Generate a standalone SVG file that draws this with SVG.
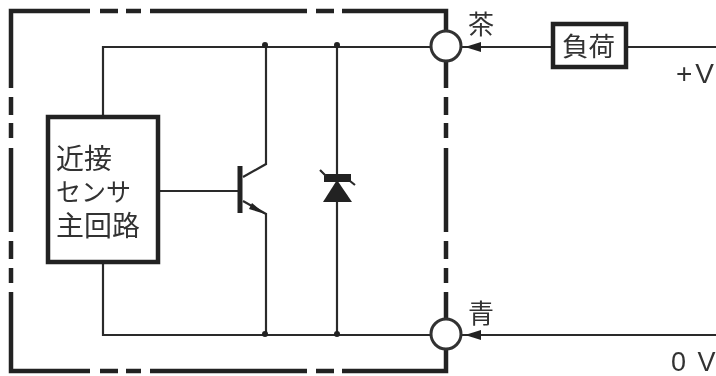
<svg xmlns="http://www.w3.org/2000/svg" width="716" height="376" viewBox="0 0 716 376">
<style>
.wire{fill:none;stroke:#2a2a2a;stroke-width:2.2}
.heavy{fill:none;stroke:#222;stroke-width:4.5}
.box{fill:#fff;stroke:#222;stroke-width:4.5}
.term{fill:#fff;stroke:#333;stroke-width:3}
.dot{fill:#222}
text{font-family:"Noto Sans CJK JP","Liberation Sans",sans-serif;fill:#333}
.latin{font-family:"Liberation Sans",sans-serif}
</style>
<defs><filter id="soft" filterUnits="userSpaceOnUse" x="0" y="0" width="716" height="376"><feGaussianBlur stdDeviation="0.55"/></filter></defs>
<rect width="716" height="376" fill="#fff"/>
<g filter="url(#soft)">
<g id="enclosure" class="heavy">
<path d="M90 11H11V88M100 11H118M126 11H141M150 11H307M316 11H334M342 11H446V30M446 60V88M446 97V115M446 123V138M446 148V232M446 241V259M446 268V283M446 292V320M446 350V371H342M334 371H316M307 371H150M141 371H126M118 371H100M90 371H11V292M11 283V268M11 259V241M11 232V148M11 138V123M11 115V97"/>
</g>
<g id="connectors">
<path class="wire" d="M103 117V47H431M103 262V335H431M266 47V164L243 177M243 201L266 214V335M337 47V335M160 191H240M462 47H553M626 47H716M462 335H716"/>
<circle class="dot" cx="265" cy="45" r="3"/>
<circle class="dot" cx="337" cy="45" r="3"/>
<circle class="dot" cx="265" cy="334" r="3"/>
<circle class="dot" cx="337" cy="334" r="3"/>
<path class="dot" d="M265 214L252 203L249 209Z"/>
<path class="dot" d="M465 47L481 42V52Z"/>
<path class="dot" d="M465 335L481 330V340Z"/>
</g>
<g id="transistor"><path class="heavy" style="stroke-width:5" d="M240 166V213"/></g>
<g id="diode">
<path class="dot" d="M337 180L323 202H352Z"/>
<path class="dot" d="M324 174H351V182H324Z"/>
<path class="wire" d="M320 170L326 176M350 181L355 185"/>
</g>
<g id="main-circuit">
<rect class="box" x="48" y="117" width="110" height="145"/>
<text x="56" y="169" font-size="28">近接</text>
<text x="56" y="201" font-size="25">センサ</text>
<text x="56" y="236" font-size="28">主回路</text>
</g>
<g id="terminal-brown">
<circle class="term" cx="446" cy="46" r="15"/>
<text x="468" y="34" font-size="26">茶</text>
</g>
<g id="terminal-blue">
<circle class="term" cx="446" cy="334" r="15"/>
<text x="468" y="323" font-size="26">青</text>
</g>
<g id="load">
<rect class="box" x="553" y="24" width="73" height="43"/>
<text x="562" y="56" font-size="26.5">負荷</text>
</g>
<g id="plus-v"><text class="latin" x="676" y="83" font-size="28">+<tspan dx="3">V</tspan></text></g>
<g id="zero-v"><text class="latin" x="671" y="371" font-size="27" letter-spacing="2">0 V</text></g>
</g>
</svg>
